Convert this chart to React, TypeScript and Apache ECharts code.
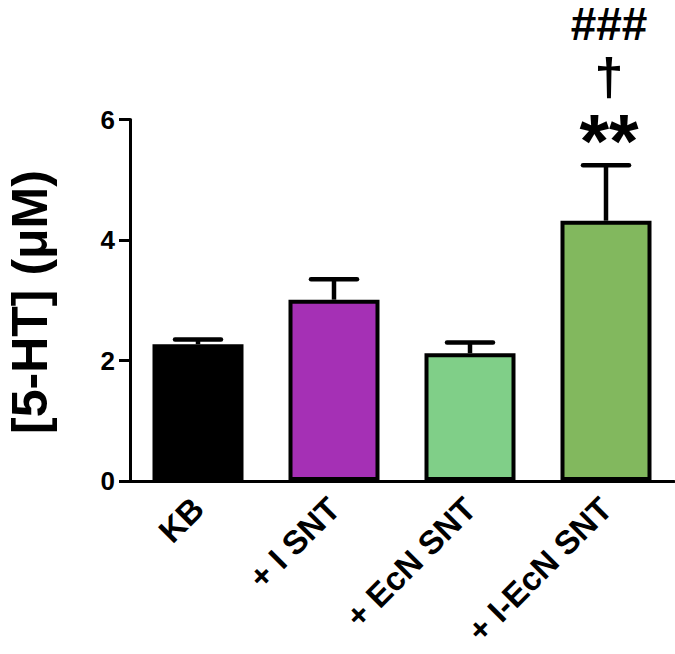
import React, { useEffect, useRef } from "react";
import * as echarts from "echarts";

const categories = ["KB", "+ I SNT", "+ EcN SNT", "+ I-EcN SNT"];
const means = [2.27, 3.01, 2.12, 4.32];
const sems = [0.08, 0.34, 0.18, 0.92];
const barColors = ["#000000", "#A530B5", "#80CF88", "#82B85E"];
const yTicks = [0, 2, 4, 6];
const annotationIndex = 3;
const annotationLabels = ["**", "\u2020", "###"];
const yAxisTitle = "[5-HT] (\u03BCM)";

const FONT = "'Liberation Sans', Arial, Helvetica, sans-serif";

export default function App() {
  const ref = useRef<HTMLDivElement>(null);
  useEffect(() => {
    document.body.style.margin = "0";
    const chart = echarts.init(ref.current!, null, { renderer: "svg" });
    const option: any = {
      animation: false,
      backgroundColor: "#ffffff",
      grid: { left: 130, right: 1, top: 119.5, bottom: 173, outerBoundsMode: "none", containLabel: false },
      graphic: [
        {
          type: "text",
          x: 30,
          y: 302,
          rotation: Math.PI / 2,
          style: {
            text: yAxisTitle,
            fontSize: 50,
            fontWeight: "bold",
            fontFamily: FONT,
            fill: "#000",
            align: "center",
            verticalAlign: "middle",
          },
        },
      ],
      xAxis: {
        type: "category",
        data: categories,
        axisLine: { lineStyle: { color: "#000", width: 3 } },
        axisTick: { alignWithLabel: true, length: 10, lineStyle: { color: "#000", width: 3 } },
        axisLabel: {
          rotate: 45,
          margin: 22,
          fontSize: 33,
          fontWeight: "bold",
          fontFamily: FONT,
          color: "#000",
          interval: 0,
        },
      },
      yAxis: {
        type: "value",
        min: yTicks[0],
        max: yTicks[yTicks.length - 1],
        interval: yTicks[1] - yTicks[0],
        axisLine: { show: true, lineStyle: { color: "#000", width: 3 } },
        axisTick: { show: true, length: 11, lineStyle: { color: "#000", width: 3 } },
        splitLine: { show: false },
        axisLabel: {
          margin: 15,
          fontSize: 26,
          fontWeight: "bold",
          fontFamily: FONT,
          color: "#000",
        },
      },
      series: [
        {
          type: "bar",
          barWidth: 91,
          data: means.map((v, i) => ({
            value: v,
            itemStyle: { color: barColors[i], borderColor: "#000", borderWidth: 4 },
          })),
          z: 2,
        },
        {
          type: "custom",
          z: 3,
          data: means.map((v, i) => [i, v, v + sems[i]]),
          renderItem: (params: any, api: any) => {
            const x = api.value(0);
            const base = api.coord([x, api.value(1)]);
            const top = api.coord([x, api.value(2)]);
            const half = 23;
            return {
              type: "group",
              children: [
                {
                  type: "line",
                  shape: { x1: base[0], y1: base[1], x2: top[0], y2: top[1] },
                  style: { stroke: "#000", lineWidth: 4.5 },
                },
                {
                  type: "line",
                  shape: { x1: top[0] - half, y1: top[1], x2: top[0] + half, y2: top[1] },
                  style: { stroke: "#000", lineWidth: 4.5, lineCap: "round" },
                },
              ],
            };
          },
        },
        {
          type: "custom",
          z: 4,
          clip: false,
          data: [[annotationIndex, means[annotationIndex] + sems[annotationIndex]]],
          renderItem: (params: any, api: any) => {
            const p = api.coord([api.value(0), api.value(1)]);
            const offsets = [-25, -88, -141];
            const sizes = [76, 52, 46];
            return {
              type: "group",
              children: annotationLabels.map((t, k) => ({
                type: "text",
                x: p[0] + 3,
                y: p[1] + offsets[k],
                style: {
                  text: t,
                  fontSize: sizes[k],
                  fontWeight: "bold",
                  fontFamily: FONT,
                  fill: "#000",
                  align: "center",
                  verticalAlign: "middle",
                },
              })),
            };
          },
        },
      ],
    };
    chart.setOption(option);
    return () => chart.dispose();
  }, []);
  return <div ref={ref} style={{ width: 675, height: 654 }} />;
}
